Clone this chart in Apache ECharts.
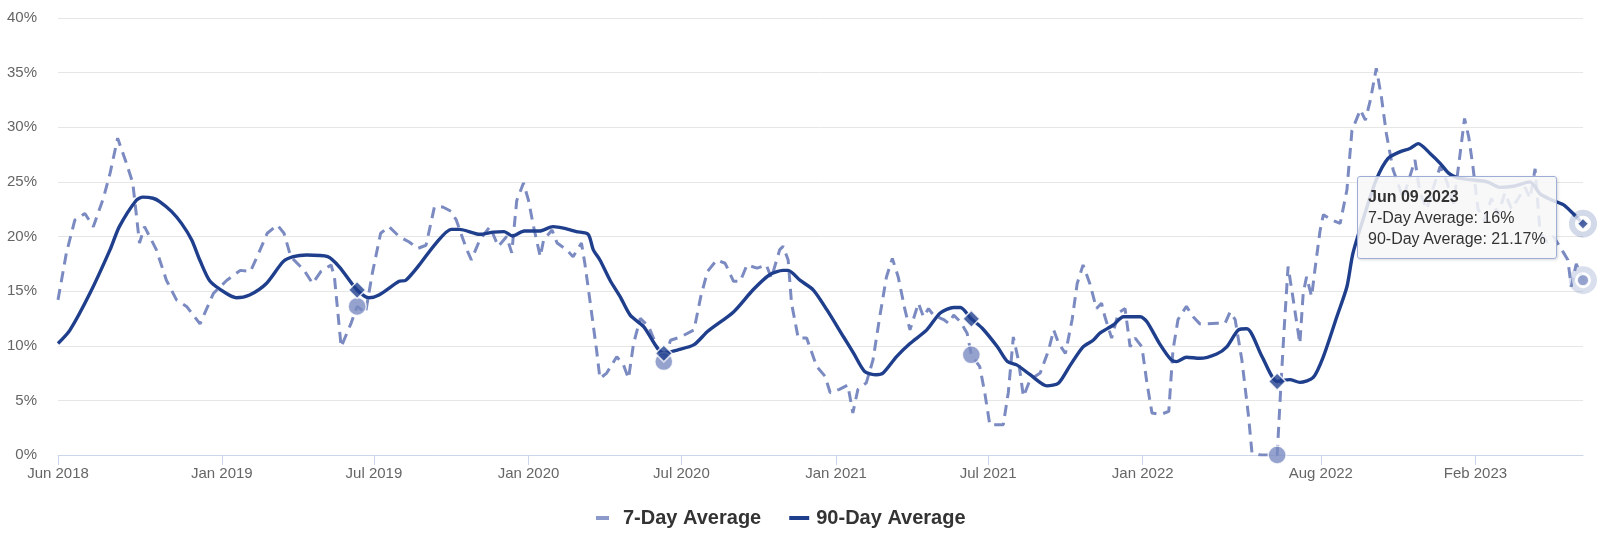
<!DOCTYPE html>
<html>
<head>
<meta charset="utf-8">
<script src="https://cdn.jsdelivr.net/npm/echarts@6/dist/echarts.min.js"></script>
<style>
html,body{margin:0;padding:0;background:#fff;}
#chart{width:1600px;height:539px;}
</style>
</head>
<body>
<div id="chart"></div>
<script>
// ---------- data ----------
const dates7 = [
'2018-06-20','2018-06-30','2018-07-10','2018-07-22','2018-08-01','2018-08-13','2018-08-21','2018-08-30','2018-09-09','2018-09-17','2018-09-25','2018-10-01','2018-10-15','2018-10-27','2018-11-08','2018-11-20','2018-12-06','2018-12-22',
'2019-01-07','2019-01-23','2019-02-04','2019-02-14','2019-02-24','2019-03-08','2019-03-16','2019-03-24','2019-04-09','2019-04-19','2019-04-29','2019-05-11','2019-05-15','2019-05-23','2019-06-04','2019-06-11','2019-06-21','2019-06-29','2019-07-09','2019-07-19','2019-07-31','2019-08-12','2019-08-22','2019-09-01','2019-09-11','2019-09-21','2019-10-01','2019-10-07','2019-10-19','2019-10-25','2019-11-04','2019-11-16','2019-11-26','2019-12-06','2019-12-12','2019-12-18','2019-12-26',
'2020-01-01','2020-01-07','2020-01-15','2020-01-19','2020-01-29','2020-02-04','2020-02-15','2020-02-23','2020-03-04','2020-03-08','2020-03-14','2020-03-22','2020-03-26','2020-04-03','2020-04-15','2020-04-23','2020-04-29','2020-05-05','2020-05-13','2020-05-23','2020-06-02','2020-06-10','2020-06-18','2020-06-30','2020-07-16','2020-07-24','2020-08-01','2020-08-12','2020-08-22','2020-09-01','2020-09-09','2020-09-17','2020-09-29','2020-10-10','2020-10-16','2020-10-26','2020-10-30','2020-11-05','2020-11-09','2020-11-17','2020-11-27','2020-12-09','2020-12-19','2020-12-25',
'2021-01-05','2021-01-15','2021-01-21','2021-01-27','2021-02-06','2021-02-14','2021-02-22','2021-03-02','2021-03-09','2021-03-16','2021-03-24','2021-03-30','2021-04-09','2021-04-15','2021-04-21','2021-04-27','2021-05-09','2021-05-15','2021-05-21','2021-05-29','2021-06-06','2021-06-11','2021-06-21','2021-06-27','2021-07-03','2021-07-11','2021-07-19','2021-07-25','2021-07-31','2021-08-06','2021-08-12','2021-08-20','2021-09-01','2021-09-11','2021-09-17','2021-09-23','2021-10-01','2021-10-09','2021-10-15','2021-10-22','2021-10-30','2021-11-07','2021-11-13','2021-11-17','2021-11-25','2021-12-03','2021-12-11','2021-12-17','2021-12-23','2021-12-31',
'2022-01-06','2022-01-12','2022-01-22','2022-02-01','2022-02-06','2022-02-12','2022-02-22','2022-03-02','2022-03-10','2022-03-30','2022-04-09','2022-04-15','2022-04-21','2022-04-29','2022-05-07','2022-05-11','2022-05-21','2022-06-10','2022-06-14','2022-06-18','2022-06-23','2022-06-28','2022-07-07','2022-07-11','2022-07-15','2022-07-21','2022-07-25','2022-07-31','2022-08-04','2022-08-14','2022-08-24','2022-09-01','2022-09-07','2022-09-17','2022-09-23','2022-09-29','2022-10-06','2022-10-12','2022-10-18','2022-10-26','2022-11-07','2022-11-15','2022-11-21','2022-11-27','2022-12-05','2022-12-13','2022-12-21','2022-12-29',
'2023-01-06','2023-01-12','2023-01-19','2023-01-24','2023-01-29','2023-02-04','2023-02-12','2023-02-20','2023-02-28','2023-03-08','2023-03-16','2023-03-24','2023-04-01','2023-04-07','2023-04-13','2023-04-19','2023-04-27','2023-05-05','2023-05-13','2023-05-17','2023-05-22','2023-05-26','2023-06-01','2023-06-09'
];
const values7 = [
14.2,18.5,21.5,22.1,20.9,23.5,25.8,29.0,26.8,24.9,19.4,20.9,18.8,16.0,14.2,13.6,12.0,14.8,
16.0,16.9,16.8,18.5,20.3,21.05,20.3,18.15,16.9,15.7,16.8,17.4,16.3,9.9,12.1,13.6,13.0,16.6,20.3,20.9,20.0,19.5,18.9,19.2,22.7,22.7,22.3,21.5,18.9,17.85,19.7,20.9,19.1,20.0,18.5,23.3,24.9,
23.3,20.9,18.15,19.7,20.6,19.4,18.8,18.15,19.4,17.55,14.2,9.6,7.0,7.5,9.0,8.25,7.0,10.2,12.5,11.75,9.9,8.55,10.5,10.8,11.45,14.5,16.8,17.85,17.55,15.9,15.9,17.4,17.1,17.4,16.2,18.8,19.1,17.85,13.9,10.7,10.7,8.1,7.2,5.7,
6.0,6.4,3.85,6.0,6.6,8.7,12.65,16.3,18.0,16.3,13.3,11.45,13.9,12.65,13.4,12.8,12.4,12.05,12.8,12.2,11.15,9.17,8.1,5.7,2.77,2.77,2.77,5.7,10.8,8.7,5.35,6.9,7.5,9.6,11.45,10.2,9.3,12.4,15.7,17.4,15.7,13.4,13.9,12.65,10.7,13.0,13.4,9.9,10.7,9.9,
6.6,3.85,3.7,4.0,9.6,12.4,13.6,12.65,12.0,12.05,12.05,13.1,12.4,8.7,3.5,0.2,0,0,5.7,11.15,17.25,14.8,10.2,14.8,16.3,14.5,17.0,20.5,22.0,21.5,21.2,24.25,29.7,31.6,30.65,32.5,35.4,32.8,29.4,26.1,23.5,25.5,27.0,24.0,22.5,24.5,26.4,25.0,
23.0,26.5,30.8,29.1,26.4,22.5,21.5,23.5,22.0,24.0,22.5,23.5,24.5,23.5,26.2,20.3,19.5,20.0,19.0,18.5,17.85,15.4,17.5,16
];
const dates90 = [
'2018-06-20','2018-07-04','2018-07-28','2018-08-21','2018-09-01','2018-09-21','2018-09-29','2018-10-11','2018-10-19','2018-11-02','2018-11-14','2018-11-26','2018-12-06','2018-12-18',
'2019-01-06','2019-01-18','2019-02-03','2019-02-23','2019-03-15','2019-03-27','2019-04-12','2019-05-07','2019-05-21','2019-06-11','2019-06-25','2019-07-07','2019-07-31','2019-08-08','2019-08-24','2019-09-13','2019-10-01','2019-10-11','2019-11-04','2019-11-20','2019-12-03','2019-12-13','2019-12-27',
'2020-01-14','2020-01-30','2020-02-13','2020-02-27','2020-03-12','2020-03-18','2020-03-26','2020-04-07','2020-04-19','2020-05-01','2020-05-17','2020-06-10','2020-06-26','2020-07-16','2020-08-01','2020-09-01','2020-09-24','2020-10-14','2020-10-30','2020-11-05','2020-11-19','2020-12-05','2020-12-21',
'2021-01-10','2021-01-22','2021-02-04','2021-02-18','2021-02-26','2021-03-14','2021-03-30','2021-04-19','2021-05-05','2021-05-21','2021-05-29','2021-06-11','2021-06-24','2021-07-12','2021-07-24','2021-08-04','2021-08-20','2021-09-09','2021-09-23','2021-10-07','2021-10-22','2021-11-03','2021-11-11','2021-11-27','2021-12-09','2021-12-29',
'2022-01-06','2022-01-21','2022-02-04','2022-02-10','2022-02-22','2022-03-10','2022-03-30','2022-04-11','2022-04-25','2022-05-05','2022-05-23','2022-06-10','2022-06-25','2022-07-07','2022-07-23','2022-08-04','2022-08-20','2022-09-01','2022-09-08','2022-09-20','2022-10-06','2022-10-20','2022-11-03','2022-11-15','2022-11-25','2022-12-09','2022-12-21','2022-12-31',
'2023-01-10','2023-01-26','2023-02-15','2023-03-02','2023-03-18','2023-04-07','2023-04-19','2023-05-01','2023-05-17','2023-06-01','2023-06-09'
];
const values90 = [
10.2,11.4,14.8,18.8,20.9,23.3,23.6,23.5,23.2,22.3,21.2,19.7,17.8,15.9,
14.8,14.4,14.65,15.7,17.7,18.15,18.3,18.15,17.2,15.1,14.4,14.65,15.9,16.0,17.4,19.4,20.65,20.65,20.2,20.4,20.45,20.05,20.5,
20.5,20.9,20.75,20.45,20.2,18.8,17.85,16.0,14.5,12.8,11.75,9.3,9.6,10.1,11.3,13.1,15.1,16.5,16.9,16.9,16.0,15.1,13.3,
10.8,9.3,7.65,7.35,7.5,9.0,10.2,11.45,13.0,13.5,13.5,12.46,11.6,9.9,8.55,8.25,7.35,6.33,6.6,8.25,9.9,10.5,11.15,11.9,12.65,12.65,
12.2,10.2,8.7,8.55,8.95,8.85,9.25,9.9,11.45,11.55,9.0,6.73,6.9,6.65,7.1,9.0,12.65,15.4,18.4,21.5,25.2,27.15,27.75,28.05,28.5,27.6,26.7,25.8,
25.4,25.2,25.0,24.5,24.6,25.0,23.9,23.4,22.9,21.8,21.17
];
const tickDates = ['2018-06-20','2019-01-01','2019-07-01','2020-01-01','2020-07-01','2021-01-01','2021-07-01','2022-01-01','2022-08-01','2023-02-01'];
const markerDates = ['2019-06-11','2020-06-10','2021-06-11','2022-06-10'];
const hoverDate = '2023-06-09';
const axisStart = '2018-06-20';
const axisEnd = '2023-06-09';
const monthNames = ['Jan','Feb','Mar','Apr','May','Jun','Jul','Aug','Sep','Oct','Nov','Dec'];
const seriesNames = ['7-Day Average','90-Day Average'];

// ---------- helpers ----------
function toTime(s){const p=s.split('-').map(Number);return new Date(p[0],p[1]-1,p[2]).getTime();}
function pairs(ds,vs){return ds.map((d,i)=>[toTime(d),vs[i]]);}
function pick(ds,vs,list){return list.map(d=>[toTime(d),vs[ds.indexOf(d)]]);}

const c7 = '#7b8bc2';
const c90 = '#1f3f8d';

const chart = echarts.init(document.getElementById('chart'));
const fontFam = '"Liberation Sans", Arial, Helvetica, sans-serif';

chart.setOption({
  animation:false,
  backgroundColor:'#fff',
  textStyle:{fontFamily:fontFam},
  grid:{left:58,right:17,top:18,bottom:84,containLabel:false},
  legend:{
    left:591, top:503, itemWidth:20, itemHeight:14, itemGap:28,
    textStyle:{fontSize:20,fontWeight:'bold',color:'#333',fontFamily:fontFam,padding:[0,0,0,2]},
    data:[
      {name:seriesNames[0], icon:'path://M0,0L13,0L13,4L0,4Z M20,2L20,2Z', itemStyle:{color:'#8c9acb'}},
      {name:seriesNames[1], icon:'path://M0,0L20,0L20,4L0,4Z', itemStyle:{color:c90}}
    ]
  },
  tooltip:{
    trigger:'axis',
    triggerOn:'none',
    alwaysShowContent:true,
    axisPointer:{type:'none'},
    backgroundColor:'rgba(247,247,247,0.85)',
    borderColor:'#9eacd8',
    borderWidth:1,
    borderRadius:3,
    padding:[9,10,9,10],
    extraCssText:'box-shadow:1px 1px 3px rgba(0,0,0,0.15);',
    textStyle:{fontFamily:fontFam,fontSize:16,color:'#333'},
    position:function(){return [1357,176];},
    formatter:function(params){
      const ps = params.filter(p=>seriesNames.indexOf(p.seriesName)>=0);
      const d = new Date(ps[0].value[0]);
      const dd = String(d.getDate()).padStart(2,'0');
      let h = '<div style="font-weight:bold;line-height:21px">'+monthNames[d.getMonth()]+' '+dd+' '+d.getFullYear()+'</div>';
      ps.forEach(p=>{h+='<div style="line-height:21px">'+p.seriesName+': '+p.value[1]+'%</div>';});
      return h;
    }
  },
  xAxis:{
    type:'value',
    min:toTime(axisStart),
    max:toTime(axisEnd),
    axisLine:{show:true,lineStyle:{color:'#ccd6eb',width:1}},
    axisTick:{show:true,length:10,lineStyle:{color:'#ccd6eb'},customValues:tickDates.map(toTime)},
    axisLabel:{
      customValues:tickDates.map(toTime),
      color:'#666',fontSize:15,margin:11,fontFamily:fontFam,
      showMinLabel:true,showMaxLabel:true,
      formatter:function(v){const d=new Date(v);return monthNames[d.getMonth()]+' '+d.getFullYear();}
    },
    splitLine:{show:false}
  },
  yAxis:{
    type:'value',min:0,max:40,interval:5,
    axisLine:{show:false},axisTick:{show:false},
    axisLabel:{formatter:'{value}%',color:'#666',fontSize:15,margin:21,fontFamily:fontFam},
    splitLine:{lineStyle:{color:'#e6e6e6',width:1}}
  },
  series:[
    {
      name:seriesNames[0],type:'line',data:pairs(dates7,values7),
      symbol:'none',smooth:false,z:2,
      lineStyle:{color:c7,width:3,type:[11,7]},itemStyle:{color:c7},
      emphasis:{disabled:true}
    },
    {
      name:seriesNames[1],type:'line',data:pairs(dates90,values90),
      symbol:'none',smooth:0.25,z:3,
      lineStyle:{color:c90,width:3.4},itemStyle:{color:c90},
      emphasis:{disabled:true}
    },
    {
      name:'halo7',type:'scatter',z:4,silent:true,tooltip:{show:false},
      data:pick(dates7,values7,[hoverDate]),symbol:'circle',symbolSize:22,
      itemStyle:{color:'#fff',borderColor:'rgba(123,139,194,0.35)',borderWidth:6}
    },
    {
      name:'halo90',type:'scatter',z:4,silent:true,tooltip:{show:false},
      data:pick(dates90,values90,[hoverDate]),symbol:'circle',symbolSize:22,
      itemStyle:{color:'#fff',borderColor:'rgba(31,63,141,0.25)',borderWidth:6}
    },
    {
      name:'mark7',type:'scatter',z:5,silent:true,tooltip:{show:false},
      data:pick(dates7,values7,markerDates),symbol:'circle',symbolSize:18,
      itemStyle:{color:c7,borderColor:'#fff',borderWidth:1.5}
    },
    {
      name:'mark7h',type:'scatter',z:5,silent:true,tooltip:{show:false},
      data:pick(dates7,values7,[hoverDate]),symbol:'circle',symbolSize:11,
      itemStyle:{color:c7,borderColor:'#fff',borderWidth:1}
    },
    {
      name:'mark90',type:'scatter',z:6,silent:true,tooltip:{show:false},
      data:pick(dates90,values90,markerDates),symbol:'diamond',symbolSize:17,
      itemStyle:{color:c90,borderColor:'#fff',borderWidth:1.5}
    },
    {
      name:'mark90h',type:'scatter',z:6,silent:true,tooltip:{show:false},
      data:pick(dates90,values90,[hoverDate]),symbol:'diamond',symbolSize:10,
      itemStyle:{color:c90,borderColor:'#fff',borderWidth:1}
    }
  ]
});

chart.dispatchAction({type:'showTip',seriesIndex:1,dataIndex:dates90.indexOf(hoverDate)});
</script>
</body>
</html>
